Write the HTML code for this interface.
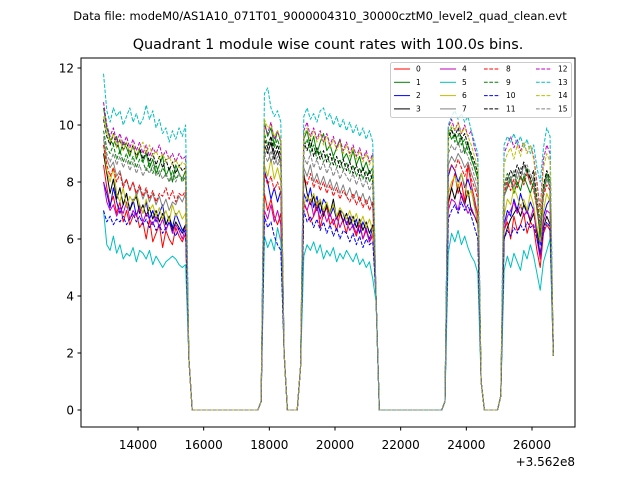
<!DOCTYPE html>
<html><head><meta charset="utf-8"><style>
body{margin:0;background:#fff;}
svg{display:block;font-family:"DejaVu Sans","Liberation Sans",sans-serif;}
</style></head><body>
<svg id="chart" width="640" height="480" viewBox="0 0 640 480">
<rect width="640" height="480" fill="#fff"/>
<text x="320" y="20" font-size="11.5" text-anchor="middle">Data file: modeM0/AS1A10_071T01_9000004310_30000cztM0_level2_quad_clean.evt</text>
<text x="328" y="49" font-size="14.4" text-anchor="middle">Quadrant 1 module wise count rates with 100.0s bins.</text>
<g id="plot"></g>
<rect x="81" y="58" width="494" height="369" fill="none" stroke="#000" stroke-width="1"/>
<g id="axes"></g>
<text x="575" y="466" font-size="12" text-anchor="end">+3.562e8</text>
<g id="legend"></g>
</svg>
<script>
const t0 = 12950, dt = 100;
const xTicks = [14000,16000,18000,20000,22000,24000,26000];
const yTicks = [0,2,4,6,8,10,12];
const names = ["0","1","2","3","4","5","6","7","8","9","10","11","12","13","14","15"];
const s0=[8.6,7.8,7.2,7.5,6.9,7.3,6.6,7.0,6.5,6.8,6.9,6.4,6.6,6.0,6.7,5.9,6.2,6.5,5.7,6.3,6.0,5.8,6.4,6.1,5.9,6.2,1.8,0,0,0,0,0,0,0,0,0,0,0,0,0,0,0,0,0,0,0,0,0,0.3,7.6,7.0,7.4,6.8,6.5,6.9,2.0,0,0,0,0,1.5,7.2,7.0,6.6,6.8,7.3,6.4,6.9,7.1,6.5,6.7,6.3,6.9,6.6,6.2,6.8,6.4,6.1,6.5,6.0,6.3,5.9,6.2,4.0,0,0,0,0,0,0,0,0,0,0,0,0,0,0,0,0,0,0,0,0,0.3,7.2,7.8,8.3,7.6,8.0,7.3,8.6,7.9,7.4,6.8,1.0,0,0,0,0,0,0.5,6.3,6.6,6.0,6.8,6.3,6.5,6.9,6.2,6.6,6.4,5.6,5.0,6.2,6.5,6.3,1.9];
const s1=[10.6,9.9,9.5,9.3,9.6,9.0,9.4,9.2,8.9,9.3,8.8,9.1,8.7,9.0,8.5,8.8,8.3,8.6,8.9,8.2,8.5,8.0,8.6,8.3,8.1,8.4,1.8,0,0,0,0,0,0,0,0,0,0,0,0,0,0,0,0,0,0,0,0,0,0.3,10.1,9.6,9.9,9.3,9.8,9.4,2.0,0,0,0,0,1.5,9.5,9.8,9.2,9.6,9.0,9.4,9.7,9.1,9.3,8.9,9.2,9.5,8.8,9.0,8.7,9.1,8.6,8.9,8.4,8.7,8.3,8.5,4.0,0,0,0,0,0,0,0,0,0,0,0,0,0,0,0,0,0,0,0,0,0.3,9.8,9.5,9.7,9.3,9.6,9.0,9.4,8.8,8.5,8.1,1.0,0,0,0,0,0,0.5,7.5,7.8,8.1,7.6,8.0,7.7,8.2,7.9,7.6,8.0,7.2,6.0,7.8,8.3,8.0,1.9];
const s2=[8.0,7.6,7.1,7.8,7.3,6.9,7.2,7.6,7.0,7.4,6.8,7.2,6.9,7.3,6.7,7.0,6.6,6.9,7.2,6.5,6.8,6.4,6.9,6.6,6.3,6.5,1.8,0,0,0,0,0,0,0,0,0,0,0,0,0,0,0,0,0,0,0,0,0,0.3,8.4,8.0,7.4,7.8,7.3,7.7,2.0,0,0,0,0,1.5,7.6,7.3,7.8,7.1,7.5,6.9,7.4,7.2,6.8,7.1,6.7,7.0,6.9,6.5,6.8,6.4,6.7,6.2,6.6,6.3,6.0,6.4,4.0,0,0,0,0,0,0,0,0,0,0,0,0,0,0,0,0,0,0,0,0,0.3,8.2,8.6,8.4,8.0,8.3,7.8,8.1,7.7,7.2,6.5,1.0,0,0,0,0,0,0.5,6.5,7.0,6.8,7.4,7.0,7.6,7.2,6.9,7.3,7.0,6.4,5.8,6.8,7.2,7.4,1.9];
const s3=[9.0,8.3,7.6,8.1,7.4,7.8,7.2,7.6,7.0,7.3,7.5,6.9,7.2,6.8,7.1,6.7,7.0,6.6,6.9,6.5,6.8,6.3,6.6,6.4,6.2,6.5,1.8,0,0,0,0,0,0,0,0,0,0,0,0,0,0,0,0,0,0,0,0,0,0.3,9.3,9.0,9.4,8.8,9.1,8.7,2.0,0,0,0,0,1.5,8.3,7.6,7.2,7.5,7.0,7.3,6.8,7.2,6.9,7.4,6.7,7.0,6.6,6.9,6.5,6.8,6.4,6.7,6.3,6.6,6.2,6.5,4.0,0,0,0,0,0,0,0,0,0,0,0,0,0,0,0,0,0,0,0,0,0.3,7.3,7.8,7.4,7.9,7.5,7.2,7.7,7.0,6.8,6.5,1.0,0,0,0,0,0,0.5,6.0,6.4,6.7,6.9,7.1,6.8,7.2,7.0,6.6,6.9,6.3,5.4,6.4,6.8,6.5,1.9];
const s4=[8.0,7.3,7.0,7.2,6.8,7.1,6.9,7.3,6.7,7.0,6.8,7.1,6.6,6.9,6.7,6.5,6.8,6.4,6.7,6.3,6.6,6.2,6.5,6.3,6.0,6.4,1.8,0,0,0,0,0,0,0,0,0,0,0,0,0,0,0,0,0,0,0,0,0,0.3,7.0,6.7,7.2,6.6,7.0,6.5,2.0,0,0,0,0,1.5,7.3,7.0,7.4,6.8,7.1,6.7,7.0,6.6,6.9,6.5,6.8,6.4,6.7,6.6,6.3,6.5,6.2,6.6,6.0,6.4,5.9,6.1,4.0,0,0,0,0,0,0,0,0,0,0,0,0,0,0,0,0,0,0,0,0,0.3,7.0,7.4,7.3,7.0,7.6,7.2,6.9,7.1,6.8,6.6,1.0,0,0,0,0,0,0.5,6.3,6.8,7.0,7.3,6.9,7.2,6.8,7.0,6.7,7.1,6.0,5.3,6.6,7.0,6.9,1.9];
const s5=[7.0,5.8,5.6,6.1,5.5,5.8,5.3,5.5,5.4,5.7,5.2,5.6,5.5,5.3,5.6,5.1,5.4,5.2,5.0,5.2,5.3,5.4,5.3,5.1,5.0,5.1,1.8,0,0,0,0,0,0,0,0,0,0,0,0,0,0,0,0,0,0,0,0,0,0.3,6.1,5.7,6.0,5.6,6.4,5.9,2.0,0,0,0,0,1.5,5.4,5.8,5.6,5.9,5.5,5.8,5.3,5.6,5.4,5.7,5.2,5.5,5.3,5.6,5.4,5.2,5.5,5.1,5.3,5.0,5.2,4.6,3.8,0,0,0,0,0,0,0,0,0,0,0,0,0,0,0,0,0,0,0,0,0.3,5.5,6.2,5.9,6.3,5.8,6.1,5.7,5.4,5.2,4.8,1.0,0,0,0,0,0,0.5,4.9,5.4,5.0,5.5,5.2,4.9,5.6,5.3,5.8,5.4,4.8,4.2,5.2,5.6,6.0,1.9];
const s6=[9.3,8.4,8.0,8.5,7.6,7.3,7.8,7.1,7.5,7.3,7.6,7.2,6.9,7.4,7.0,7.2,6.8,7.1,6.7,7.0,6.6,7.2,6.8,7.0,6.7,6.9,1.8,0,0,0,0,0,0,0,0,0,0,0,0,0,0,0,0,0,0,0,0,0,0.3,8.6,8.2,8.8,8.1,8.5,8.0,2.0,0,0,0,0,1.5,7.2,7.5,7.3,7.6,7.2,7.4,7.0,7.3,6.9,7.2,6.8,7.1,6.9,6.7,7.0,6.6,6.9,6.5,6.8,6.4,6.7,6.3,4.0,0,0,0,0,0,0,0,0,0,0,0,0,0,0,0,0,0,0,0,0,0.3,7.6,8.0,8.2,7.8,8.3,7.9,7.5,7.7,7.1,6.6,1.0,0,0,0,0,0,0.5,6.8,7.4,7.2,7.8,7.5,7.1,7.4,7.0,7.6,7.2,6.4,5.9,7.0,7.6,7.3,1.9];
const s7=[9.5,8.8,8.5,8.7,8.2,8.4,7.9,8.1,7.7,8.0,7.5,7.8,7.4,7.7,7.3,7.6,7.2,7.5,7.1,7.4,7.0,7.3,7.2,7.5,7.3,7.6,1.8,0,0,0,0,0,0,0,0,0,0,0,0,0,0,0,0,0,0,0,0,0,0.3,8.9,9.2,8.7,9.0,8.6,8.8,2.0,0,0,0,0,1.5,8.5,8.2,8.6,8.0,8.3,7.9,8.2,7.8,8.1,7.7,8.0,7.6,7.9,7.5,7.8,7.4,7.7,7.3,7.6,7.2,7.5,7.1,4.0,0,0,0,0,0,0,0,0,0,0,0,0,0,0,0,0,0,0,0,0,0.3,8.6,8.9,8.7,9.0,8.8,8.5,8.7,8.3,8.0,7.6,1.0,0,0,0,0,0,0.5,7.5,7.9,8.2,7.8,8.4,8.1,8.6,8.3,7.9,8.2,7.0,6.3,7.6,8.1,7.8,1.9];
const s8=[9.3,8.6,8.2,8.5,8.0,8.3,7.8,8.1,7.7,8.0,7.6,7.9,7.5,7.8,7.4,7.7,7.3,7.6,7.5,7.8,7.4,7.7,7.3,7.6,7.5,7.7,1.8,0,0,0,0,0,0,0,0,0,0,0,0,0,0,0,0,0,0,0,0,0,0.3,8.3,7.9,8.2,7.7,8.0,7.6,2.0,0,0,0,0,1.5,8.2,7.9,8.3,7.8,8.1,7.7,8.0,7.6,7.9,7.5,7.8,7.4,7.7,7.5,7.3,7.6,7.2,7.5,7.1,7.4,7.0,7.3,4.0,0,0,0,0,0,0,0,0,0,0,0,0,0,0,0,0,0,0,0,0,0.3,8.3,8.6,8.4,8.8,8.5,8.2,8.6,8.1,7.8,7.4,1.0,0,0,0,0,0,0.5,7.6,8.0,7.7,8.1,7.8,8.2,7.9,8.3,8.0,7.7,7.1,6.2,7.5,7.9,7.7,1.9];
const s9=[9.8,9.2,9.0,9.3,8.8,9.1,8.7,9.0,8.6,8.9,8.5,8.8,8.7,8.4,8.7,8.3,8.6,8.2,8.5,8.3,8.0,8.4,8.1,8.3,8.0,8.2,1.8,0,0,0,0,0,0,0,0,0,0,0,0,0,0,0,0,0,0,0,0,0,0.3,9.7,9.3,9.6,9.2,9.5,9.1,2.0,0,0,0,0,1.5,9.2,9.5,9.0,9.3,8.8,9.1,8.7,9.0,8.6,8.9,8.5,8.8,8.4,8.7,8.3,8.6,8.2,8.5,8.1,8.4,8.0,8.3,4.0,0,0,0,0,0,0,0,0,0,0,0,0,0,0,0,0,0,0,0,0,0.3,9.6,9.9,9.4,9.7,9.3,9.5,9.1,8.9,8.5,8.2,1.0,0,0,0,0,0,0.5,7.9,8.3,8.0,8.4,7.9,8.2,8.0,8.5,8.1,7.8,7.2,6.1,7.7,8.2,7.9,1.9];
const s10=[7.0,6.6,6.8,6.5,6.7,6.6,6.8,6.5,6.7,6.9,6.6,6.8,6.5,6.7,6.4,6.6,6.3,6.5,6.2,6.4,6.6,6.3,6.1,6.4,6.2,6.3,1.8,0,0,0,0,0,0,0,0,0,0,0,0,0,0,0,0,0,0,0,0,0,0.3,6.8,6.4,6.6,6.1,5.8,5.6,2.0,0,0,0,0,1.5,7.0,6.6,6.8,6.4,6.7,6.3,6.6,6.2,6.5,6.1,6.4,6.0,6.3,6.2,5.9,6.2,5.8,6.1,5.7,6.0,5.8,5.9,4.0,0,0,0,0,0,0,0,0,0,0,0,0,0,0,0,0,0,0,0,0,0.3,6.7,7.0,7.2,6.9,7.3,7.0,7.2,6.8,6.4,6.0,1.0,0,0,0,0,0,0.5,6.0,6.3,6.1,6.4,6.2,6.5,6.3,6.6,6.4,6.5,6.0,5.5,6.3,6.6,6.4,2.4];
const s11=[10.2,9.6,9.3,9.7,9.2,9.5,9.1,9.4,9.0,9.3,8.9,9.2,8.8,9.1,8.7,9.0,8.6,8.9,8.5,8.8,8.4,8.7,8.3,8.6,8.4,8.5,1.8,0,0,0,0,0,0,0,0,0,0,0,0,0,0,0,0,0,0,0,0,0,0.3,9.5,9.2,9.6,9.0,9.3,8.9,2.0,0,0,0,0,1.5,9.4,9.1,9.5,8.9,9.2,8.8,9.1,8.7,9.0,8.6,8.9,8.5,8.8,8.4,8.7,8.3,8.6,8.2,8.5,8.1,8.4,8.0,4.0,0,0,0,0,0,0,0,0,0,0,0,0,0,0,0,0,0,0,0,0,0.3,9.5,9.8,9.6,9.9,9.5,9.7,9.3,9.0,8.7,8.3,1.0,0,0,0,0,0,0.5,7.8,8.1,8.4,8.2,8.6,8.3,8.7,8.4,8.1,8.4,7.4,6.5,7.9,8.4,8.1,1.9];
const s12=[10.8,10.0,9.6,9.9,9.4,9.7,9.3,9.6,9.2,9.5,9.1,9.4,9.0,9.3,8.9,9.2,9.0,9.3,8.9,9.1,8.8,9.0,8.7,9.0,8.8,8.9,1.8,0,0,0,0,0,0,0,0,0,0,0,0,0,0,0,0,0,0,0,0,0,0.3,10.0,9.7,10.1,9.5,9.8,9.4,2.0,0,0,0,0,1.5,9.8,10.1,9.6,9.9,9.5,9.8,9.4,9.7,9.3,9.6,9.2,9.5,9.1,9.4,9.0,9.3,8.9,9.2,8.8,9.1,8.7,9.0,4.0,0,0,0,0,0,0,0,0,0,0,0,0,0,0,0,0,0,0,0,0,0.3,9.9,10.2,9.8,10.1,9.7,10.0,9.6,9.8,9.2,8.8,1.0,0,0,0,0,0,0.5,9.0,9.3,9.6,9.2,9.5,9.1,9.4,9.0,9.3,8.9,8.0,7.0,8.8,9.3,9.0,1.9];
const s13=[11.8,10.5,10.1,10.6,10.3,10.5,10.0,10.3,10.6,10.1,10.4,10.0,10.2,10.7,10.2,10.5,9.9,10.2,9.7,9.9,9.4,9.8,9.5,9.9,9.6,10.0,1.8,0,0,0,0,0,0,0,0,0,0,0,0,0,0,0,0,0,0,0,0,0,0.3,11.1,11.3,10.6,10.3,10.5,10.1,2.0,0,0,0,0,1.5,10.3,10.6,10.2,10.4,10.1,10.5,10.6,10.2,10.4,10.0,10.3,9.9,10.2,9.8,10.1,9.7,10.0,9.6,9.9,9.5,9.8,9.4,4.0,0,0,0,0,0,0,0,0,0,0,0,0,0,0,0,0,0,0,0,0,0.3,10.0,10.3,10.5,10.2,10.4,10.1,10.3,9.8,9.4,9.0,1.0,0,0,0,0,0,0.5,9.3,9.6,9.4,9.7,9.3,9.6,9.2,9.5,9.0,9.3,8.5,8.0,9.2,9.9,9.6,1.9];
const s14=[10.3,9.7,9.4,9.7,9.2,9.5,9.1,9.4,9.0,9.3,8.9,9.2,9.4,9.0,9.3,8.9,9.1,8.8,9.0,8.7,8.9,8.6,8.8,8.5,8.7,8.6,1.8,0,0,0,0,0,0,0,0,0,0,0,0,0,0,0,0,0,0,0,0,0,0.3,10.2,9.9,10.0,9.6,9.8,9.5,2.0,0,0,0,0,1.5,9.6,9.9,9.5,9.8,9.4,9.7,9.3,9.6,9.2,9.5,9.1,9.4,9.0,9.3,8.9,9.2,8.8,9.1,8.7,9.0,8.6,8.9,4.0,0,0,0,0,0,0,0,0,0,0,0,0,0,0,0,0,0,0,0,0,0.3,9.7,10.0,9.8,10.1,9.7,9.9,9.6,9.3,8.9,8.5,1.0,0,0,0,0,0,0.5,8.6,9.0,9.2,8.8,9.3,8.9,9.4,9.0,9.3,8.8,7.8,6.8,8.5,9.0,8.7,1.9];
const s15=[9.6,9.0,8.7,9.0,8.6,8.9,8.5,8.8,8.4,8.7,8.3,8.6,8.2,8.5,8.3,8.6,8.2,8.4,8.1,8.3,8.0,8.2,8.0,8.3,8.1,8.2,1.8,0,0,0,0,0,0,0,0,0,0,0,0,0,0,0,0,0,0,0,0,0,0.3,9.0,8.7,9.1,8.6,8.9,8.5,2.0,0,0,0,0,1.5,8.9,8.6,9.0,8.5,8.8,8.4,8.7,8.3,8.6,8.2,8.5,8.1,8.4,8.2,8.0,8.3,7.9,8.2,7.8,8.1,7.7,8.0,4.0,0,0,0,0,0,0,0,0,0,0,0,0,0,0,0,0,0,0,0,0,0.3,9.0,9.3,9.1,9.4,9.0,9.2,8.9,8.6,8.2,7.9,1.0,0,0,0,0,0,0.5,7.8,8.2,8.0,8.4,8.1,8.5,8.2,8.6,8.3,8.0,7.3,6.4,7.8,8.2,8.0,1.9];
const series=[s0,s1,s2,s3,s4,s5,s6,s7,s8,s9,s10,s11,s12,s13,s14,s15];

const colors=["#ff0000","#008000","#0000ff","#000000","#bf00bf","#00bfbf","#bfbf00","#808080"];
const NS="http://www.w3.org/2000/svg";
const X=t=>138+(t-14000)*(394/12000);
const Y=v=>410-v*28.5;
function mk(tag,attrs,parent){const e=document.createElementNS(NS,tag);for(const k in attrs)e.setAttribute(k,attrs[k]);parent.appendChild(e);return e;}
const plot=document.getElementById('plot'), axes=document.getElementById('axes'), leg=document.getElementById('legend');
series.forEach((s,k)=>{
  const d=s.map((v,i)=>(i?'L':'M')+X(t0+i*dt).toFixed(2)+' '+Y(v).toFixed(2)).join(' ');
  const p=mk('path',{d:d,fill:'none',stroke:colors[k%8],'stroke-width':1,'stroke-linejoin':'round'},plot);
  if(k>=8)p.setAttribute('stroke-dasharray','3.7 1.6');
  
  
});
xTicks.forEach(t=>{
  const x=X(t);
  const l=mk('line',{x1:x,x2:x,y1:427,y2:430.5,stroke:'#000'},axes);
  
  
  const tx=mk('text',{x:x,y:449,'font-size':12,'text-anchor':'middle'},axes);
  tx.textContent=t;
  
  
});
yTicks.forEach(v=>{
  const y=Y(v);
  const l=mk('line',{x1:77.5,x2:81,y1:y,y2:y,stroke:'#000'},axes);
  
  
  const tx=mk('text',{x:74,y:y+4.3,'font-size':12,'text-anchor':'end'},axes);
  tx.textContent=v;
  
  
});
const lb=mk('rect',{x:390.5,y:62.5,width:181,height:55,rx:2,fill:'#fff','fill-opacity':0.8,stroke:'#ccc'},leg);


const colX=[394,440,484,536];
names.forEach((n,k)=>{
  const cx=colX[Math.floor(k/4)], cy=69+(k%4)*13.3;
  const l=mk('line',{x1:cx,x2:cx+16,y1:cy,y2:cy,stroke:colors[k%8],'stroke-width':1},leg);
  if(k>=8)l.setAttribute('stroke-dasharray','3.7 1.6');
  
  
  const tx=mk('text',{x:cx+22,y:cy+2.6,'font-size':7.5},leg);
  tx.textContent=n;
  
  
});
</script>
</body></html>
